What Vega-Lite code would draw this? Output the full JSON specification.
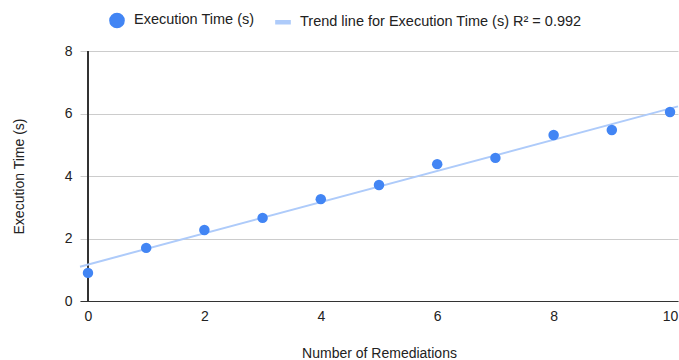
{
  "$schema": "https://vega.github.io/schema/vega-lite/v6.json",
  "autosize": "none",
  "width": 598,
  "height": 250,
  "padding": {"left": 80, "top": 51, "right": 1, "bottom": 59},
  "background": "white",
  "config": {
    "font": "Liberation Sans",
    "view": {"stroke": null},
    "axis": {"labelFont": "Liberation Sans", "titleFont": "Liberation Sans", "labelFontSize": 14, "titleFontSize": 14, "labelColor": "#222", "titleColor": "#222", "titleFontWeight": "normal", "gridColor": "#cccccc", "gridOpacity": 1, "ticks": false}
  },
  "data": {"values": [
    {"n": 0, "t": 0.90},
    {"n": 1, "t": 1.70},
    {"n": 2, "t": 2.27},
    {"n": 3, "t": 2.66},
    {"n": 4, "t": 3.26},
    {"n": 5, "t": 3.71},
    {"n": 6, "t": 4.38},
    {"n": 7, "t": 4.58},
    {"n": 8, "t": 5.31},
    {"n": 9, "t": 5.47},
    {"n": 10, "t": 6.05}
  ]},
  "layer": [
    {
      "mark": {"type": "rule", "color": "#333333", "strokeWidth": 1},
      "encoding": {"x": {"datum": 0, "type": "quantitative"}}
    },
    {
      "transform": [{"regression": "t", "on": "n", "method": "linear", "extent": [-0.137, 10.137]}],
      "mark": {"type": "line", "strokeWidth": 2, "clip": false},
      "encoding": {
        "x": {"field": "n", "type": "quantitative"},
        "y": {"field": "t", "type": "quantitative"},
        "color": {"datum": "Trend line for Execution Time (s) R² = 0.992"}
      }
    },
    {
      "mark": {"type": "point", "filled": true, "opacity": 1, "size": 110},
      "encoding": {
        "x": {"field": "n", "type": "quantitative", "title": "Number of Remediations",
          "scale": {"domain": [-0.137, 10.137], "nice": false, "zero": false},
          "axis": {"values": [0, 2, 4, 6, 8, 10], "format": "d", "domainColor": "#333333", "labelPadding": 8, "titlePadding": 23}},
        "y": {"field": "t", "type": "quantitative", "title": "Execution Time (s)",
          "scale": {"domain": [0, 8], "nice": false},
          "axis": {"values": [0, 2, 4, 6, 8], "format": "d", "domain": false, "labelPadding": 8, "titlePadding": 38}},
        "shape": {"datum": "Execution Time (s)",
          "scale": {"domain": ["Execution Time (s)", "Trend line for Execution Time (s) R² = 0.992"], "range": ["circle", "M-1,-0.22H1V0.22H-1Z"]},
          "legend": null},
        "color": {"datum": "Execution Time (s)",
          "scale": {"domain": ["Execution Time (s)", "Trend line for Execution Time (s) R² = 0.992"], "range": ["#4285f4", "#aecbfa"]},
          "legend": {"title": null, "orient": "none", "direction": "horizontal", "legendX": 29, "legendY": -39, "labelLimit": 0,
            "labelFont": "Liberation Sans", "labelFontSize": 14.5, "labelColor": "#222", "columnPadding": 17, "symbolSize": 200, "labelOffset": 9,
            "encode": {"symbols": {"update": {"shape": {"signal": "indexof(datum.label, 'Trend') === 0 ? 'M-1,-0.22H1V0.22H-1Z' : 'circle'"}, "strokeWidth": {"value": 0}, "fillOpacity": {"value": 1}}}}}
        }
      }
    }
  ]
}
